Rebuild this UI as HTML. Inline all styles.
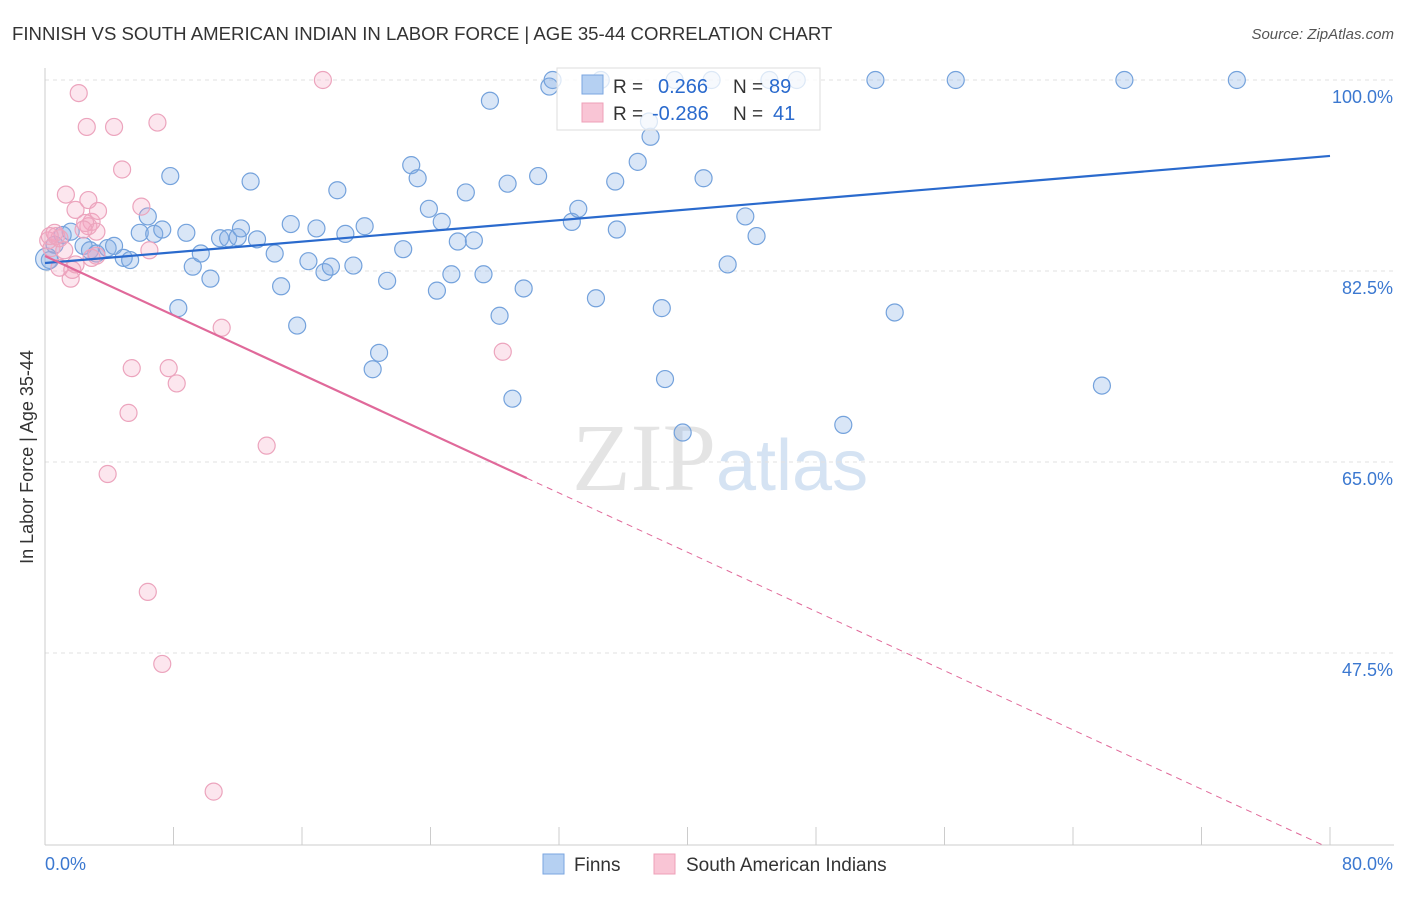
<!DOCTYPE html>
<html><head><meta charset="utf-8"><style>
body{margin:0;background:#fff;font-family:"Liberation Sans",sans-serif;}
</style></head><body>
<svg id="chart" width="1406" height="892" xmlns="http://www.w3.org/2000/svg" font-family="Liberation Sans, sans-serif">
<text x="12" y="40" font-size="18.6" fill="#333">FINNISH VS SOUTH AMERICAN INDIAN IN LABOR FORCE | AGE 35-44 CORRELATION CHART</text>
<text x="1394" y="39" font-size="15" fill="#555" font-style="italic" text-anchor="end">Source: ZipAtlas.com</text>
<text x="716" y="490" font-size="96" text-anchor="end" fill="#e4e4e4" font-family="Liberation Serif, serif">ZIP</text>
<text x="716" y="490" font-size="72" fill="#d5e3f3">atlas</text>
<g id="grid"></g><g id="axes"></g><g id="pts"></g><g id="lines"></g>
<text transform="translate(33,457) rotate(-90)" font-size="18" fill="#333" text-anchor="middle">In Labor Force | Age 35-44</text>
<g>
<rect x="557" y="68" width="263" height="62" fill="#fff" fill-opacity="0.75" stroke="#ddd"/>
<rect x="582" y="75" width="21" height="19" fill="#b5d0f2" stroke="#7aa6e0"/>
<rect x="582" y="103" width="21" height="19" fill="#f9c5d5" stroke="#eea0b8"/>
<text x="613" y="93" font-size="19" fill="#333">R = </text><text x="658" y="93" font-size="20" fill="#2a6acd">0.266</text>
<text x="733" y="93" font-size="19" fill="#333">N = </text><text x="769" y="93" font-size="20" fill="#2a6acd">89</text>
<text x="613" y="120" font-size="19" fill="#333">R = </text><text x="652" y="120" font-size="20" fill="#2a6acd">-0.286</text>
<text x="733" y="120" font-size="19" fill="#333">N = </text><text x="773" y="120" font-size="20" fill="#2a6acd">41</text>
</g>
<g>
<rect x="543" y="854" width="21" height="20" fill="#b5d0f2" stroke="#7aa6e0"/>
<text x="574" y="871" font-size="19" fill="#333">Finns</text>
<rect x="654" y="854" width="21" height="20" fill="#f9c5d5" stroke="#eea0b8"/>
<text x="686" y="871" font-size="19" fill="#333">South American Indians</text>
</g>
</svg>
<script>
const blueX=[0.3,0.6,1.1,1.6,2.4,2.8,3.2,3.9,4.3,4.9,5.3,5.9,6.4,6.8,7.3,7.8,8.3,8.8,9.2,9.7,10.3,10.9,11.4,12.0,12.2,12.8,13.2,14.3,14.7,15.3,15.7,16.4,16.9,17.4,17.8,18.2,18.7,19.2,19.9,20.4,20.8,21.3,22.3,22.8,23.2,23.9,24.4,24.7,25.3,25.7,26.2,26.7,27.3,27.7,28.3,28.8,29.1,29.8,30.7,31.4,31.6,32.8,33.2,34.3,34.6,35.5,35.6,36.9,37.6,37.7,38.4,38.6,39.2,39.7,41.0,41.5,42.5,43.6,44.3,45.1,46.8,49.7,51.7,52.9,56.7,65.8,67.2,74.2,0.1];
const blueY=[83.5,84.9,85.8,86.1,84.8,84.4,84.1,84.6,84.8,83.7,83.5,86.0,87.5,85.9,86.3,91.2,79.1,86.0,82.9,84.1,81.8,85.5,85.5,85.6,86.4,90.7,85.4,84.1,81.1,86.8,77.5,83.4,86.4,82.4,82.9,89.9,85.9,83.0,86.6,73.5,75.0,81.6,84.5,92.2,91.0,88.2,80.7,87.0,82.2,85.2,89.7,85.3,82.2,98.1,78.4,90.5,70.8,80.9,91.2,99.4,100,87.0,88.2,80.0,100,90.7,86.3,92.5,96.2,94.8,79.1,72.6,100,67.7,91.0,100,83.1,87.5,85.7,100,100,68.4,100,78.7,100,72.0,100,100,83.6];
const pinkX=[0.2,0.4,0.7,0.9,1.3,1.6,1.7,1.9,2.1,2.6,2.7,2.7,2.9,3.2,3.2,3.3,4.3,4.8,5.4,5.2,6.0,6.4,6.5,7.0,7.3,7.7,8.2,3.9,10.5,11.0,13.8,17.3,28.5,0.9,1.9,2.5,0.6,0.3,1.2,2.4,2.9];
const pinkY=[85.3,84.6,85.7,85.5,89.5,81.8,82.6,88.1,98.8,95.7,86.6,89.0,87.0,83.9,86.1,88.0,95.7,91.8,73.6,69.5,88.4,53.1,84.4,96.1,46.5,73.6,72.2,63.9,34.8,77.3,66.5,100,75.1,82.8,83.1,86.9,86.0,85.7,84.4,86.3,83.7];
const blueLine=[83.23,93.04];
const pinkLine=[83.87,29.6];
const yTicks=[100,82.5,65,47.5];
const xTicks=[0,8,16,24,32,40,48,56,64,72,80];
const NS='http://www.w3.org/2000/svg';
const sx=v=>45+v*(1285/80);
const sy=v=>80+(100-v)*(191/17.5);
function mk(tag,a,parent){const e=document.createElementNS(NS,tag);for(const k in a)e.setAttribute(k,a[k]);document.getElementById(parent).appendChild(e);return e;}
yTicks.forEach(t=>{
 const l=mk('line',{x1:45,x2:1394,y1:sy(t),y2:sy(t),stroke:'#e2e2e2','stroke-dasharray':'4,4'},'grid');
 
 
 const tx=mk('text',{x:1393,y:sy(t)+23,'font-size':18,fill:'#3b78d0','text-anchor':'end'},'grid');
 tx.textContent=t.toFixed(1)+'%';
 
 
});
const ax=mk('line',{x1:45,x2:45,y1:68,y2:845,stroke:'#ccc'},'axes');


const bx=mk('line',{x1:45,x2:1394,y1:845,y2:845,stroke:'#ccc'},'axes');


xTicks.forEach(t=>{
 const l=mk('line',{x1:sx(t),x2:sx(t),y1:827,y2:845,stroke:'#ccc'},'axes');
 
 
});
[[0,'start',45],[80,'end',1393]].forEach(([v,a,x])=>{
 const tx=mk('text',{x:x,y:870,'font-size':18,fill:'#3b78d0','text-anchor':a},'axes');
 tx.textContent=v.toFixed(1)+'%';
 
 
});
blueX.forEach((v,i)=>{
 const c=mk('circle',{cx:sx(v),cy:sy(blueY[i]),r:i==blueX.length-1?11:8.5,fill:'rgba(130,172,228,0.3)',stroke:'#74a2dc','stroke-width':1.2},'pts');
 
 
});
pinkX.forEach((v,i)=>{
 const c=mk('circle',{cx:sx(v),cy:sy(pinkY[i]),r:8.5,fill:'rgba(245,165,195,0.28)',stroke:'#eca4bd','stroke-width':1.2},'pts');
 
 
});
const bl=mk('line',{x1:sx(0),y1:sy(blueLine[0]),x2:sx(80),y2:sy(blueLine[1]),stroke:'#2a6acd','stroke-width':2.2},'lines');


const pAt=x=>pinkLine[0]+(pinkLine[1]-pinkLine[0])*x/80;
const ps=mk('line',{x1:sx(0),y1:sy(pAt(0)),x2:sx(30),y2:sy(pAt(30)),stroke:'#e0699a','stroke-width':2.2},'lines');


const pd=mk('line',{x1:sx(30),y1:sy(pAt(30)),x2:sx(79.6),y2:sy(pAt(79.6)),stroke:'#e0699a','stroke-width':1,'stroke-dasharray':'6,5'},'lines');


</script>
</body></html>
